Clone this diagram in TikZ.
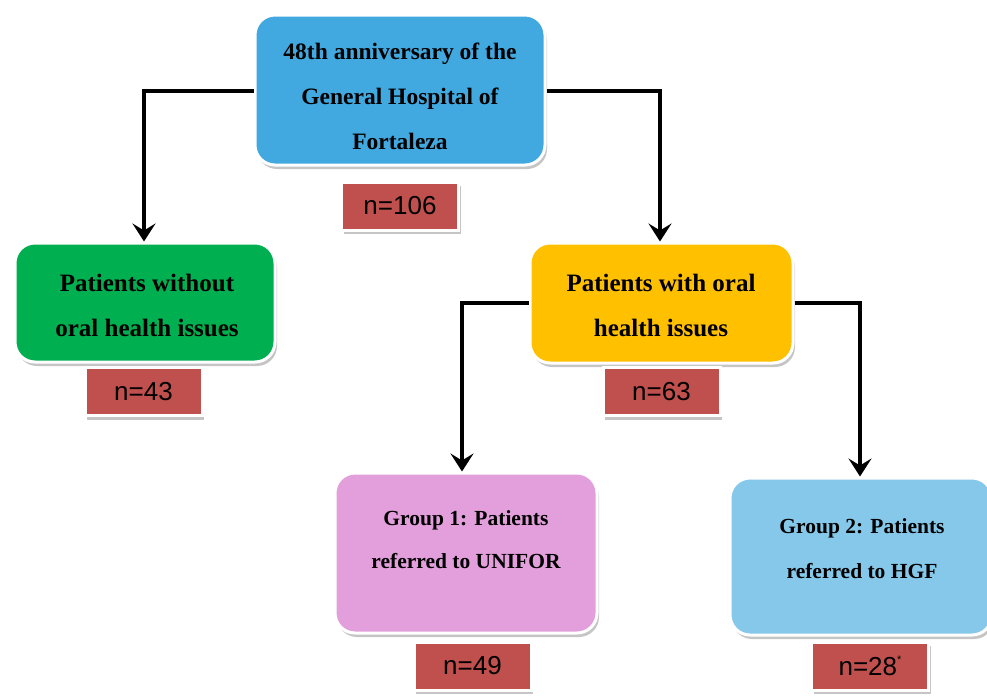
\documentclass[tikz,border=0pt]{standalone}
\usepackage{fontspec}
\setmainfont{Liberation Serif}
\newfontfamily\nfont{Liberation Sans}
\usetikzlibrary{shadows,arrows.meta,positioning}
\definecolor{topblue}{HTML}{41A9E0}
\definecolor{okgreen}{HTML}{00B050}
\definecolor{orangey}{HTML}{FFC000}
\definecolor{pinky}{HTML}{E39FDC}
\definecolor{lightblue}{HTML}{86C8EA}
\definecolor{nred}{HTML}{C0504D}
\tikzset{
  box/.style={rounded corners=20pt, draw=white, line width=3pt,
    drop shadow={shadow xshift=2pt, shadow yshift=-4pt, fill=black!45, opacity=0.5},
    inner sep=0pt},
  nbox/.style={draw=white, line width=3pt, fill=nred,
    drop shadow={shadow xshift=2pt, shadow yshift=-4pt, fill=black!45, opacity=0.5},
    inner sep=0pt, minimum width=117pt, minimum height=48pt,
    font=\nfont\fontsize{26}{26}\selectfont},
  btext/.style={align=center, font=\bfseries\fontsize{23.5}{45}\selectfont},
  conn/.style={line width=3.5pt, -{Stealth[length=18pt,width=23pt,inset=7pt]}}
}
\begin{document}
\begin{tikzpicture}[x=1pt,y=-1pt]
\useasboundingbox (0,0) rectangle (987,696);
% boxes
\node[box, fill=topblue, minimum width=290pt, minimum height=150pt] (top) at (400,90) {};
\node[btext] (toptext) at (400,96) {48th anniversary of the\\General Hospital of\\Fortaleza};
\node[nbox] (n106) at (400,206) {n=106};

\node[box, fill=okgreen, minimum width=260pt, minimum height=119pt] (without) at (145,302.5) {};
\node[btext, font=\bfseries\fontsize{25}{45}\selectfont] (withouttext) at (147,305) {Patients without\\oral health issues};
\node[nbox] (n43) at (143.5,391.5) {n=43};

\node[box, fill=orangey, minimum width=263pt, minimum height=120pt] (with) at (661.5,303) {};
\node[btext, font=\bfseries\fontsize{25}{45}\selectfont] (withtext) at (661,305) {Patients with oral\\health issues};
\node[nbox] (n63) at (661.5,391.5) {n=63};

\node[box, fill=pinky, minimum width=262pt, minimum height=160pt] (g1) at (466,553) {};
\node[btext, font=\bfseries\fontsize{21.5}{43}\selectfont] (g1text) at (466,540) {Group 1: Patients\\referred to UNIFOR};
\node[nbox] (n49) at (472.5,666) {n=49};

\node[box, fill=lightblue, minimum width=262pt, minimum height=157pt] (g2) at (861,556.5) {};
\node[btext, font=\bfseries\fontsize{21.5}{45}\selectfont] (g2text) at (862,549) {Group 2: Patients\\referred to HGF};
\node[nbox] (n28) at (870,666) {n=28\raisebox{0.45em}{\fontsize{11}{11}\selectfont*}};

% connectors
\coordinate (c1) at (144,91);
\coordinate (c2) at (660,91);
\coordinate (c3) at (462,303);
\coordinate (c4) at (860,303);
\draw[conn] (top.west |- c1) -- (c1) -- (c1 |- without.north);
\draw[conn] (top.east |- c2) -- (c2) -- (c2 |- with.north);
\draw[conn] (with.west |- c3) -- (c3) -- (c3 |- g1.north);
\draw[conn] (with.east |- c4) -- (c4) -- (c4 |- g2.north);
\end{tikzpicture}
\end{document}
